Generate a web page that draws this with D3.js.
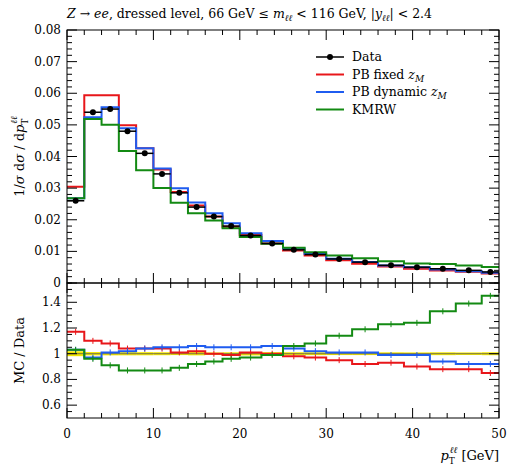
<!DOCTYPE html>
<html><head><meta charset="utf-8">
<script src="https://cdn.jsdelivr.net/npm/d3@7"></script>
<style>body{margin:0;background:#fff}text{font-family:"DejaVu Serif","Liberation Serif",serif}</style>
</head><body><div id="chart"></div>
<script>
// bin edges in pT [GeV]
var edges = [0,2,4,6,8,10,12,14,16,18,20,22.5,25,27.5,30,33,36,39,42,45,48,50];
var dataVals = [0.026,0.054,0.055,0.048,0.041,0.0345,0.0285,0.024,0.021,0.018,0.015,0.0125,0.0105,0.009,0.0076,0.0066,0.0056,0.005,0.0045,0.004,0.0035];
var dataErr = [0.0005,0.0007,0.0007,0.0006,0.0005,0.0004,0.0003,0.0003,0.0002,0.0002,0.0002,0.00015,0.00012,0.0001,0.00008,0.00007,0.00006,0.00005,0.00005,0.00004,0.00004];
var ratioFixed = [1.17,1.10,1.08,1.04,1.04,1.04,1.01,1.02,1.00,0.99,1.01,1.00,0.98,0.97,0.95,0.92,0.93,0.90,0.88,0.88,0.85];
var ratioDyn = [1.03,0.97,1.01,1.02,1.04,1.05,1.05,1.06,1.05,1.05,1.05,1.06,1.04,1.02,1.01,1.01,0.99,0.99,0.94,0.92,0.92];
var ratioKMRW = [1.03,0.96,0.91,0.87,0.87,0.87,0.89,0.92,0.94,0.96,0.97,0.99,1.06,1.08,1.14,1.19,1.23,1.24,1.33,1.39,1.45];
var xTicks = [0,10,20,30,40,50];
var yTicks = [0.01,0.02,0.03,0.04,0.05,0.06,0.07,0.08];
var rTicks = [0.6,0.8,1,1.2,1.4];

var series = [
  {name:'PB fixed', sub:'z', subM:'M', color:'#e8161a', ratio:ratioFixed},
  {name:'PB dynamic', sub:'z', subM:'M', color:'#1f5cf0', ratio:ratioDyn},
  {name:'KMRW', color:'#138a13', ratio:ratioKMRW}
];

var W = 514, H = 466, L = 67, R = 499, T = 30, M = 283, B = 418;
var svg = d3.select('#chart').append('svg').attr('width', W).attr('height', H);

var x = d3.scaleLinear().domain([0,50]).range([L,R]);
var y = d3.scaleLinear().domain([0,0.08]).range([M,T]);
var yr = d3.scaleLinear().domain([0.5,1.55]).range([B,M]);

function stepPath(vals, ys) {
  var p = '';
  vals.forEach(function (v, i) {
    p += (i ? 'L' : 'M') + x(edges[i]) + ',' + ys(v) + 'L' + x(edges[i+1]) + ',' + ys(v);
  });
  return p;
}

// data band in ratio
var band = svg.append('g');
dataVals.forEach(function (v, i) {
  var e = dataErr[i] / v;
  band.append('rect').attr('x', x(edges[i])).attr('width', x(edges[i+1]) - x(edges[i]))
    .attr('y', yr(1 + e)).attr('height', yr(1 - e) - yr(1 + e)).attr('fill', '#f2e600');
});
svg.append('line').attr('x1', L).attr('x2', R).attr('y1', yr(1)).attr('y2', yr(1)).attr('stroke', '#555').attr('stroke-width', 0.8);

series.forEach(function (s) {
  var mc = s.ratio.map(function (r, i) { return r * dataVals[i]; });
  svg.append('path').attr('d', stepPath(mc, y)).attr('fill', 'none').attr('stroke', s.color).attr('stroke-width', 2);
  svg.append('path').attr('d', stepPath(s.ratio, yr)).attr('fill', 'none').attr('stroke', s.color).attr('stroke-width', 2);
  s.ratio.forEach(function (r, i) {
    var cx = x((edges[i] + edges[i+1]) / 2);
    svg.append('line').attr('x1', cx).attr('x2', cx).attr('y1', yr(r) - 3).attr('y2', yr(r) + 3).attr('stroke', s.color).attr('stroke-width', 1);
  });
});

// data points
dataVals.forEach(function (v, i) {
  var cx = x((edges[i] + edges[i+1]) / 2);
  svg.append('line').attr('x1', x(edges[i])).attr('x2', x(edges[i+1])).attr('y1', y(v)).attr('y2', y(v)).attr('stroke', '#000').attr('stroke-width', 1.5);
  svg.append('line').attr('x1', cx).attr('x2', cx).attr('y1', y(v + dataErr[i])).attr('y2', y(v - dataErr[i])).attr('stroke', '#000').attr('stroke-width', 1.5);
  svg.append('circle').attr('cx', cx).attr('cy', y(v)).attr('r', 3).attr('fill', '#000');
});

// frames and ticks
function frame(y0, y1) {
  svg.append('rect').attr('x', L).attr('y', y0).attr('width', R - L).attr('height', y1 - y0).attr('fill', 'none').attr('stroke', '#000').attr('stroke-width', 1);
}
frame(T, M); frame(M, B);
var tk = svg.append('g').attr('stroke', '#000').attr('stroke-width', 1);
function xticksAt(y0, y1) {
  for (var v = 0; v <= 50; v += 2) {
    var major = v % 10 === 0, len = major ? 10 : 5;
    tk.append('line').attr('x1', x(v)).attr('x2', x(v)).attr('y1', y1).attr('y2', y1 - len);
    tk.append('line').attr('x1', x(v)).attr('x2', x(v)).attr('y1', y0).attr('y2', y0 + len);
  }
}
xticksAt(T, M); xticksAt(M, B);
for (var v = 0; v <= 0.0801; v += 0.002) {
  var major = Math.round(v * 1000) % 10 === 0, len = major ? 10 : 5;
  tk.append('line').attr('x1', L).attr('x2', L + len).attr('y1', y(v)).attr('y2', y(v));
  tk.append('line').attr('x1', R).attr('x2', R - len).attr('y1', y(v)).attr('y2', y(v));
}
for (var r = 0.55; r <= 1.5501; r += 0.05) {
  var major = Math.round(r * 100) % 20 === 0, len = major ? 10 : 5;
  tk.append('line').attr('x1', L).attr('x2', L + len).attr('y1', yr(r)).attr('y2', yr(r));
  tk.append('line').attr('x1', R).attr('x2', R - len).attr('y1', yr(r)).attr('y2', yr(r));
}

// labels
yTicks.forEach(function (t) {
  svg.append('text').attr('x', L - 6).attr('y', y(t) + 4).attr('text-anchor', 'end').attr('font-size', 12).text(d3.format('.2f')(t));
});
svg.append('text').attr('x', L - 6).attr('y', M + 4).attr('text-anchor', 'end').attr('font-size', 12).text('0');
rTicks.forEach(function (t) {
  svg.append('text').attr('x', L - 6).attr('y', yr(t) + 4).attr('text-anchor', 'end').attr('font-size', 12).text(t === 1 ? '1' : d3.format('.1f')(t));
});
xTicks.forEach(function (t) {
  svg.append('text').attr('x', x(t)).attr('y', B + 20).attr('text-anchor', 'middle').attr('font-size', 12).text(t);
});

var xl = svg.append('text').attr('x', R).attr('y', B + 42).attr('text-anchor', 'end').attr('font-size', 13);
xl.append('tspan').attr('font-style', 'italic').text('p');
xl.append('tspan').attr('font-size', 9).attr('dy', 4).text('T');
xl.append('tspan').attr('font-size', 9).attr('font-style', 'italic').attr('dy', -11).attr('dx', -5).text('ℓℓ');
xl.append('tspan').attr('dy', 7).text(' [GeV]');

var yl = svg.append('text').attr('transform', 'translate(24,' + ((T + M) / 2) + ') rotate(-90)').attr('text-anchor', 'middle').attr('font-size', 13);
yl.append('tspan').text('1/');
yl.append('tspan').attr('font-style', 'italic').text('σ');
yl.append('tspan').text(' d');
yl.append('tspan').attr('font-style', 'italic').text('σ');
yl.append('tspan').text(' / d');
yl.append('tspan').attr('font-style', 'italic').text('p');
yl.append('tspan').attr('font-size', 9).attr('dy', 4).text('T');
yl.append('tspan').attr('font-size', 9).attr('font-style', 'italic').attr('dy', -11).attr('dx', -5).text('ℓℓ');
svg.append('text').attr('transform', 'translate(24,' + ((M + B) / 2) + ') rotate(-90)').attr('text-anchor', 'middle').attr('font-size', 13).text('MC / Data');

var title = svg.append('text').attr('x', L).attr('y', 18).attr('font-size', 12.5);
title.append('tspan').attr('font-style', 'italic').text('Z');
title.append('tspan').text(' → ');
title.append('tspan').attr('font-style', 'italic').text('ee');
title.append('tspan').text(', dressed level, 66 GeV ≤ ');
title.append('tspan').attr('font-style', 'italic').text('m');
title.append('tspan').attr('font-style', 'italic').attr('font-size', 9).attr('dy', 3).text('ℓℓ');
title.append('tspan').attr('dy', -3).text(' < 116 GeV, |');
title.append('tspan').attr('font-style', 'italic').text('y');
title.append('tspan').attr('font-style', 'italic').attr('font-size', 9).attr('dy', 3).text('ℓℓ');
title.append('tspan').attr('dy', -3).text('| < 2.4');

// legend
var lx = 316, ly = 57, dy = 17.5;
var lg = svg.append('g');
lg.append('line').attr('x1', lx).attr('x2', lx + 28).attr('y1', ly).attr('y2', ly).attr('stroke', '#000').attr('stroke-width', 1.5);
lg.append('circle').attr('cx', lx + 14).attr('cy', ly).attr('r', 3).attr('fill', '#000');
lg.append('text').attr('x', lx + 36).attr('y', ly + 4).attr('font-size', 12.5).text('Data');
series.forEach(function (s, i) {
  var yy = ly + dy * (i + 1);
  lg.append('line').attr('x1', lx).attr('x2', lx + 28).attr('y1', yy).attr('y2', yy).attr('stroke', s.color).attr('stroke-width', 2);
  var t = lg.append('text').attr('x', lx + 36).attr('y', yy + 4).attr('font-size', 12.5).text(s.name + ' ');
  if (s.sub) {
    t.append('tspan').attr('font-style', 'italic').text(' z');
    t.append('tspan').attr('font-style', 'italic').attr('font-size', 9).attr('dy', 3).text(s.subM);
  }
});
</script></body></html>
